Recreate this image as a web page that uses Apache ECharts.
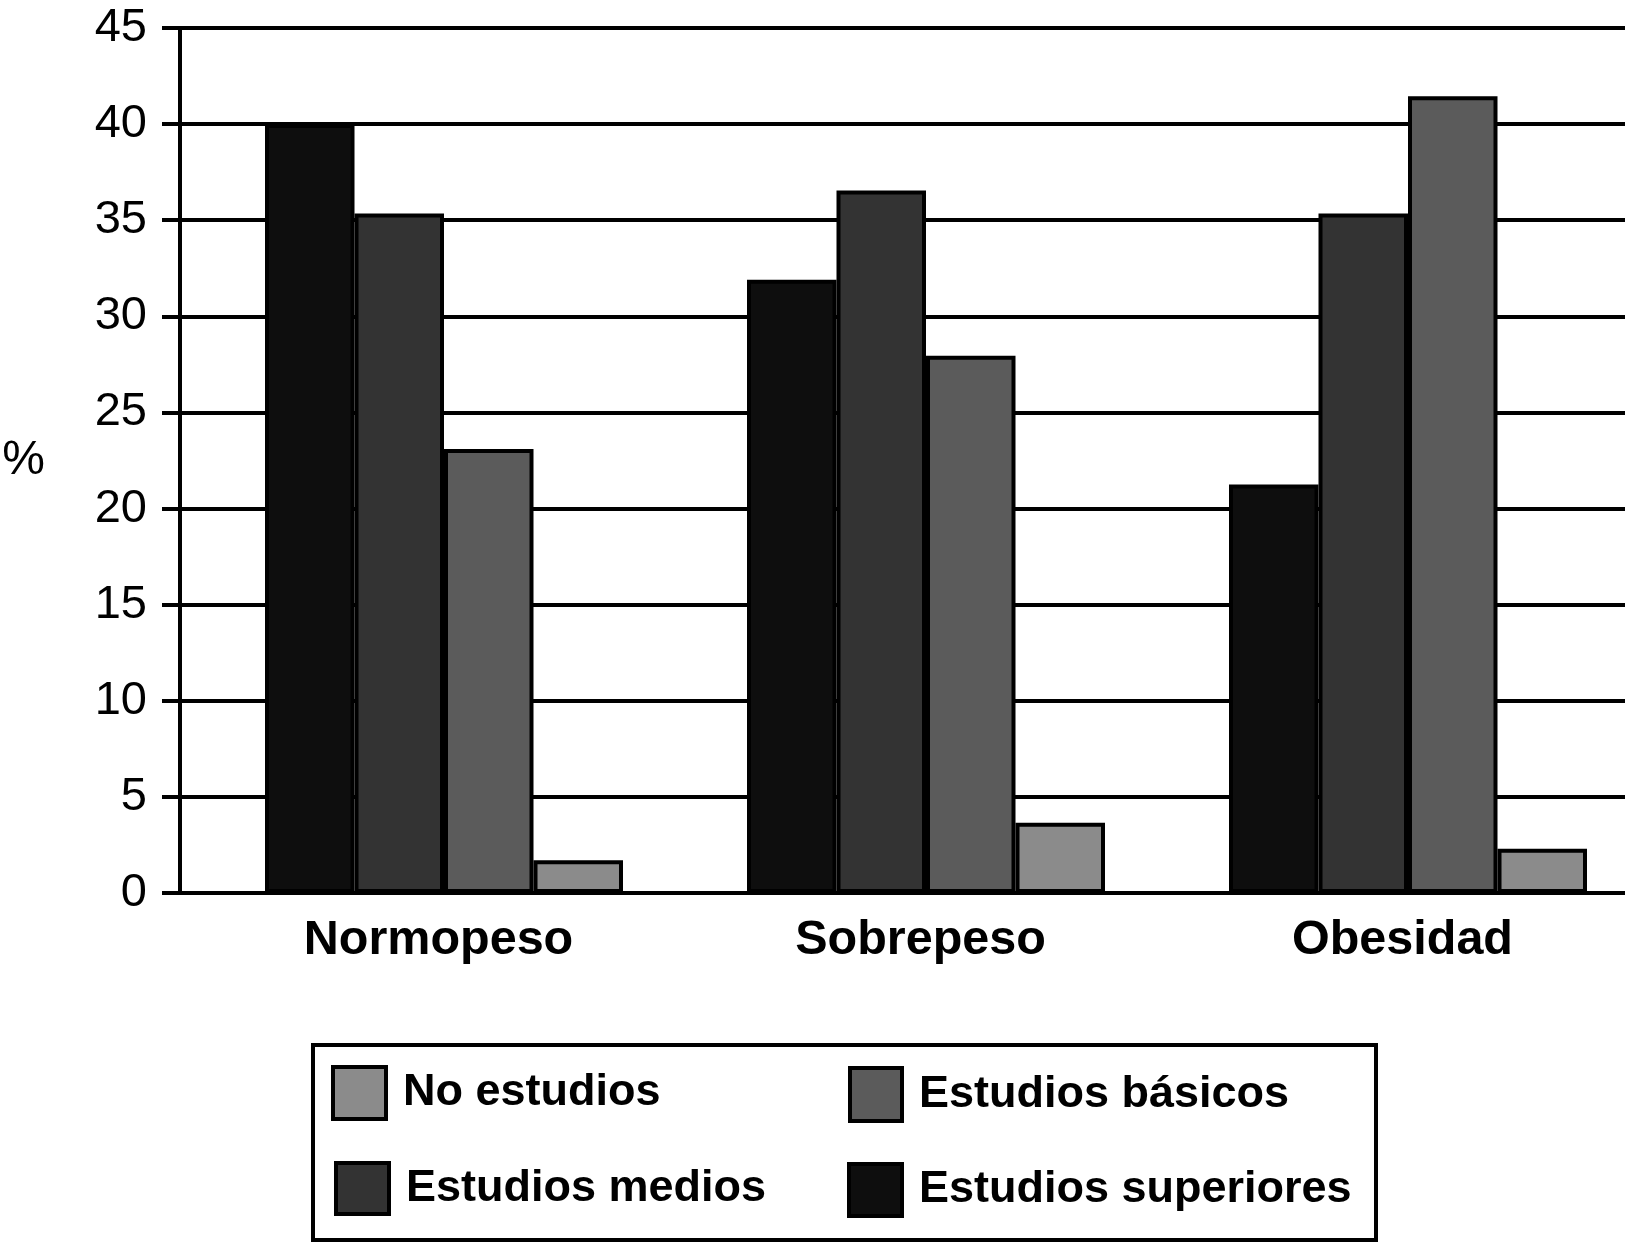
<!DOCTYPE html>
<html>
<head>
<meta charset="utf-8">
<style>
  html, body { margin: 0; padding: 0; background: #fff; }
  #chart { width: 1625px; height: 1243px; }
</style>
<script src="https://cdn.jsdelivr.net/npm/echarts@6/dist/echarts.min.js"></script>
</head>
<body>
<div id="chart"></div>
<script>
// ---- data ----
const categories = ['Normopeso', 'Sobrepeso', 'Obesidad'];
const estudiosSuperiores = [40.0, 31.9, 21.25];
const estudiosMedios     = [35.35, 36.55, 35.35];
const estudiosBasicos    = [23.1, 27.95, 41.45];
const noEstudios         = [1.7, 3.65, 2.3];
const seriesNames = ['Estudios superiores', 'Estudios medios', 'Estudios básicos', 'No estudios'];
const yAxisName = '%';

// ---- styles ----
const FONT = '"Liberation Sans", Arial, Helvetica, sans-serif';
const colors = ['#0e0e0e', '#333333', '#5b5b5b', '#8b8b8b'];
const values = [estudiosSuperiores, estudiosMedios, estudiosBasicos, noEstudios];

const chart = echarts.init(document.getElementById('chart'), null, { renderer: 'canvas' });

function legendAt(name, left, top, w, h) {
  return {
    data: [name],
    left: left, top: top,
    padding: 0,
    itemWidth: w, itemHeight: h,
    icon: 'rect',
    selectedMode: false,
    itemStyle: { borderColor: '#000', borderWidth: 4 },
    textStyle: { fontFamily: FONT, fontSize: 45, fontWeight: 'bold', color: '#000', padding: [0, 0, 0, 12] }
  };
}

const option = {
  backgroundColor: '#fff',
  animation: false,
  grid: { left: 203, width: 1446, top: 28, bottom: 350, containLabel: false, outerBoundsMode: 'none' },
  xAxis: {
    type: 'category',
    data: categories,
    axisLine: { show: true, lineStyle: { color: '#000', width: 4 } },
    axisTick: { show: false },
    axisLabel: { margin: 23, fontFamily: FONT, fontSize: 48.5, fontWeight: 'bold', color: '#000', padding: [0, 11, 0, 0] },
    splitLine: { show: false }
  },
  yAxis: [
    {
      type: 'value',
      min: 0, max: 45, interval: 5,
      name: yAxisName,
      nameLocation: 'middle',
      nameRotate: 0,
      nameGap: 158,
      nameTextStyle: { fontFamily: FONT, fontSize: 48, color: '#000', padding: [0, 0, 26, 0] },
      axisLine: { show: false },
      axisTick: { show: true, inside: false, length: 41, lineStyle: { color: '#000', width: 4 } },
      axisLabel: { margin: 56, fontFamily: FONT, fontSize: 47, color: '#000' },
      splitLine: { show: true, lineStyle: { color: '#000', width: 4 } }
    },
    {
      type: 'value',
      position: 'left',
      offset: 23,
      min: 0, max: 45, interval: 5,
      axisLine: { show: true, lineStyle: { color: '#000', width: 4 } },
      axisTick: { show: false },
      axisLabel: { show: false },
      splitLine: { show: false }
    }
  ],
  legend: [
    legendAt('No estudios', 331, 1065, 53, 52),
    legendAt('Estudios básicos', 848, 1066, 52, 53),
    legendAt('Estudios medios', 334, 1161, 53, 51),
    legendAt('Estudios superiores', 847, 1162, 53, 52)
  ],
  graphic: [
    {
      type: 'rect',
      shape: { x: 313, y: 1045, width: 1063, height: 195 },
      style: { fill: 'none', stroke: '#000', lineWidth: 4 },
      silent: true,
      z: 0
    }
  ],
  series: seriesNames.map((name, i) => ({
    name: name,
    type: 'bar',
    yAxisIndex: 0,
    data: values[i],
    barWidth: 89.5,
    barGap: '0%',
    itemStyle: { color: colors[i], borderColor: '#000', borderWidth: 4 },
    emphasis: { disabled: true }
  }))
};

chart.setOption(option);
</script>
</body>
</html>
